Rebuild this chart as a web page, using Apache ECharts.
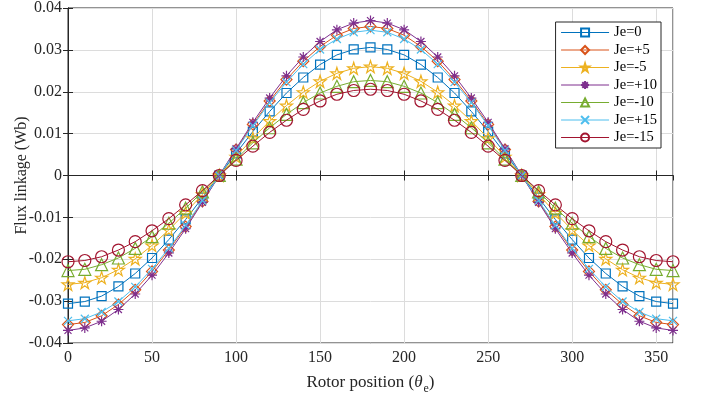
<!DOCTYPE html>
<html><head><meta charset="utf-8">
<script src="https://cdn.jsdelivr.net/npm/echarts@6/dist/echarts.min.js"></script>
<style>html,body{margin:0;padding:0;background:#fff}#c{width:701px;height:396px}</style>
</head><body><div id="c"></div>
<script>
const theta = [0,10,20,30,40,50,60,70,80,90,100,110,120,130,140,150,160,170,180,190,200,210,220,230,240,250,260,270,280,290,300,310,320,330,340,350,360];
const names = ['Je=0','Je=+5','Je=-5','Je=+10','Je=-10','Je=+15','Je=-15'];
const je0   = [-0.0306,-0.0301,-0.0288,-0.0265,-0.0234,-0.0197,-0.0153,-0.0105,-0.0053,0,0.0053,0.0105,0.0153,0.0197,0.0234,0.0265,0.0288,0.0301,0.0306,0.0301,0.0288,0.0265,0.0234,0.0197,0.0153,0.0105,0.0053,0,-0.0053,-0.0105,-0.0153,-0.0197,-0.0234,-0.0265,-0.0288,-0.0301,-0.0306];
const jeP5  = [-0.0356,-0.0351,-0.0335,-0.0308,-0.0273,-0.0229,-0.0178,-0.0122,-0.0062,0,0.0062,0.0122,0.0178,0.0229,0.0273,0.0308,0.0335,0.0351,0.0356,0.0351,0.0335,0.0308,0.0273,0.0229,0.0178,0.0122,0.0062,0,-0.0062,-0.0122,-0.0178,-0.0229,-0.0273,-0.0308,-0.0335,-0.0351,-0.0356];
const jeM5  = [-0.0260,-0.0256,-0.0244,-0.0225,-0.0199,-0.0167,-0.0130,-0.0089,-0.0045,0,0.0045,0.0089,0.0130,0.0167,0.0199,0.0225,0.0244,0.0256,0.0260,0.0256,0.0244,0.0225,0.0199,0.0167,0.0130,0.0089,0.0045,0,-0.0045,-0.0089,-0.0130,-0.0167,-0.0199,-0.0225,-0.0244,-0.0256,-0.0260];
const jeP10 = [-0.0370,-0.0364,-0.0348,-0.0320,-0.0283,-0.0238,-0.0185,-0.0127,-0.0064,0,0.0064,0.0127,0.0185,0.0238,0.0283,0.0320,0.0348,0.0364,0.0370,0.0364,0.0348,0.0320,0.0283,0.0238,0.0185,0.0127,0.0064,0,-0.0064,-0.0127,-0.0185,-0.0238,-0.0283,-0.0320,-0.0348,-0.0364,-0.0370];
const jeM10 = [-0.0227,-0.0224,-0.0213,-0.0197,-0.0174,-0.0146,-0.0114,-0.0078,-0.0039,0,0.0039,0.0078,0.0114,0.0146,0.0174,0.0197,0.0213,0.0224,0.0227,0.0224,0.0213,0.0197,0.0174,0.0146,0.0114,0.0078,0.0039,0,-0.0039,-0.0078,-0.0114,-0.0146,-0.0174,-0.0197,-0.0213,-0.0224,-0.0227];
const jeP15 = [-0.0347,-0.0342,-0.0326,-0.0301,-0.0266,-0.0223,-0.0174,-0.0119,-0.0060,0,0.0060,0.0119,0.0174,0.0223,0.0266,0.0301,0.0326,0.0342,0.0347,0.0342,0.0326,0.0301,0.0266,0.0223,0.0174,0.0119,0.0060,0,-0.0060,-0.0119,-0.0174,-0.0223,-0.0266,-0.0301,-0.0326,-0.0342,-0.0347];
const jeM15 = [-0.0206,-0.0203,-0.0194,-0.0178,-0.0158,-0.0132,-0.0103,-0.0070,-0.0036,0,0.0036,0.0070,0.0103,0.0132,0.0158,0.0178,0.0194,0.0203,0.0206,0.0203,0.0194,0.0178,0.0158,0.0132,0.0103,0.0070,0.0036,0,-0.0036,-0.0070,-0.0103,-0.0132,-0.0158,-0.0178,-0.0194,-0.0203,-0.0206];
const yTicks = [-0.04,-0.03,-0.02,-0.01,0,0.01,0.02,0.03,0.04];

const values = [je0, jeP5, jeM5, jeP10, jeM10, jeP15, jeM15];
const colors = ['#0072BD','#D95319','#EDB120','#7E2F8E','#77AC30','#4DBEEE','#A2142F'];
const STAR = 'path://M0,-100L22.45,-30.9L95.1,-30.9L36.33,11.8L58.8,80.9L0,38.2L-58.8,80.9L-36.33,11.8L-95.1,-30.9L-22.45,-30.9Z';
const AST = 'path://M0,-100L0,100M-100,0L100,0M-70,-70L70,70M-70,70L70,-70';
const XM = 'path://M-100,-100L100,100M-100,100L100,-100';
const symbols = ['rect','diamond',STAR,AST,'triangle',XM,'circle'];
const sizes = [9,11,12,10,12,8,12];
const font = 'Liberation Serif';

const series = names.map((n,i)=>({
  name:n, type:'line', data: theta.map((t,k)=>[t, values[i][k]]),
  symbol: symbols[i], symbolSize: sizes[i], showAllSymbol:true,
  lineStyle:{color:colors[i], width:1},
  itemStyle:{color:'rgba(255,255,255,0)', borderColor:colors[i], borderWidth:1.2},
  emphasis:{disabled:true}, animation:false, z: 2+i
}));

const chart = echarts.init(document.getElementById('c'));
chart.setOption({
  animation:false,
  grid:{left:68, right:28, top:8, bottom:53, show:true, borderColor:'#262626', borderWidth:1,
        containLabel:false, outerBoundsMode:'none'},
  legend:{
    orient:'vertical', right:40, top:22, data:names,
    backgroundColor:'#fff', borderColor:'#262626', borderWidth:1,
    padding:[3,4,3,5], itemWidth:48, itemHeight:10, itemGap:2.5,
    lineStyle:{width:1},
    textStyle:{fontFamily:font, fontSize:14.5, color:'#000'}
  },
  xAxis:[{
    type:'value', min:0, max:360, interval:50,
    name:'Rotor position ({i|θ}{s|e})', nameLocation:'middle', nameGap:28, nameMoveOverlap:false,
    nameTextStyle:{fontFamily:font, fontSize:17, color:'#262626',
      rich:{i:{fontFamily:font, fontStyle:'italic', fontSize:17, color:'#262626'},
            s:{fontFamily:font, fontSize:12, color:'#262626', padding:[12,0,0,1]}}},
    axisLine:{lineStyle:{color:'#262626'}},
    axisTick:{inside:true, length:5, lineStyle:{color:'#262626'}},
    axisLabel:{fontFamily:font, fontSize:16, color:'#262626', margin:7, showMaxLabel:false},
    splitLine:{show:true, lineStyle:{color:'#dcdcdc', width:1}}
  },{
    type:'value', position:'top', min:0, max:360, interval:50,
    axisLine:{lineStyle:{color:'#262626'}},
    axisTick:{inside:true, length:5, lineStyle:{color:'#262626'}},
    axisLabel:{show:false}, splitLine:{show:false}
  }],
  yAxis:[{
    type:'value', min:-0.04, max:0.04, interval:0.01,
    name:'Flux linkage (Wb)', nameLocation:'middle', nameGap:38, nameMoveOverlap:false,
    nameTextStyle:{fontFamily:font, fontSize:16, color:'#262626'},
    axisLine:{lineStyle:{color:'#262626'}},
    axisTick:{inside:true, length:5, lineStyle:{color:'#262626'}},
    axisLabel:{fontFamily:font, fontSize:16, color:'#262626', margin:6,
      formatter:v=>{ const t = yTicks.find(y=>Math.abs(y-v)<1e-9); const r = t===undefined? v : t; return Math.abs(r)<1e-9?'0':r.toFixed(2);} },
    splitLine:{show:true, lineStyle:{color:'#dcdcdc', width:1}}
  },{
    type:'value', position:'right', min:-0.04, max:0.04, interval:0.01,
    axisLine:{lineStyle:{color:'#262626'}},
    axisTick:{inside:true, length:5, lineStyle:{color:'#262626'}},
    axisLabel:{show:false}, splitLine:{show:false}
  }],
  series: series
});
</script>
</body></html>
